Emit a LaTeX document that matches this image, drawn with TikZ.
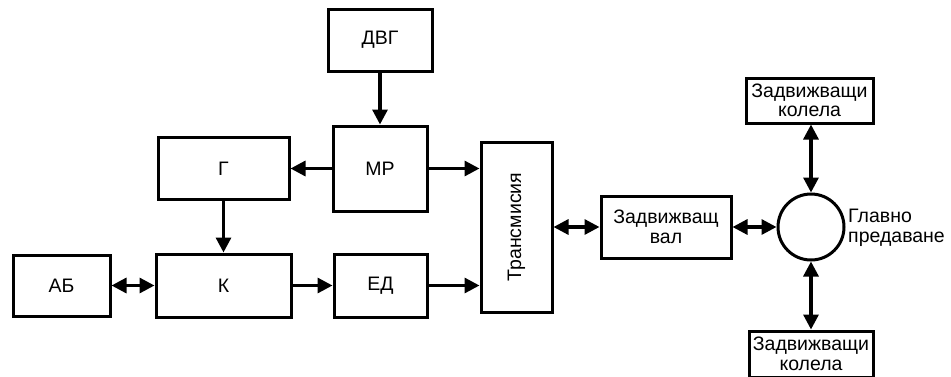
\documentclass[tikz,border=0pt]{standalone}
\usepackage{fontspec}
\setmainfont{Liberation Sans}
\usetikzlibrary{arrows.meta}
\begin{document}
\begin{tikzpicture}[x=1pt,y=-1pt,
  blok/.style={draw,line width=3pt,inner sep=0pt,align=center,font=\fontsize{19.5}{19.5}\selectfont},
  pil/.style={line width=3.2pt,-{Triangle[length=15pt,width=15pt]}},
  dpil/.style={line width=3.2pt,{Triangle[length=15pt,width=15pt]}-{Triangle[length=15pt,width=15pt]}}]
\clip (0,0) rectangle (951,376);
% blocks
\node[blok,minimum width=104,minimum height=62] (dvg) at (380,40) {ДВГ};
\node[blok,minimum width=94,minimum height=85] (mr) at (380,168.5) {МР};
\node[blok,minimum width=131,minimum height=62] (g) at (223.5,168.5) {Г};
\node[blok,minimum width=135,minimum height=63] (k) at (223.5,285.5) {К};
\node[blok,minimum width=97,minimum height=61] (ab) at (61.5,285.5) {АБ};
\node[blok,minimum width=93,minimum height=63] (ed) at (380.5,285.5) {ЕД};
\node[blok,minimum width=71,minimum height=170] (tr) at (516.5,227) {\rotatebox{90}{Трансмисия}};
\node[blok,minimum width=130,minimum height=62] (val) at (666,227) {Задвижващ\\вал};
\node[draw,circle,line width=3pt,minimum size=66] (gp) at (811,227) {};
\node[anchor=west,align=left,inner sep=0pt,font=\fontsize{19.5}{20}\selectfont] (gplabel) at (848,228) {Главно\\предаване};
\node[blok,minimum width=127,minimum height=45] (kolT) at (809.5,100.5) {Задвижващи\\колела};
\node[blok,minimum width=124,minimum height=46] (kolB) at (811,354) {Задвижващи\\колела};
% connections
\draw[pil] (dvg) -- (mr);
\draw[pil] (mr) -- (g);
\draw[pil] (mr.east) -- (mr.east -| tr.west);
\draw[pil] (g) -- (k);
\draw[dpil] (ab) -- (k);
\draw[pil] (k) -- (ed);
\draw[pil] (ed.east) -- (ed.east -| tr.west);
\draw[dpil] (tr) -- (val);
\draw[dpil] (val) -- (gp);
\draw[dpil] (gp.north) -- (gp.north |- kolT.south);
\draw[dpil] (gp.south) -- (gp.south |- kolB.north);
\end{tikzpicture}
\end{document}
